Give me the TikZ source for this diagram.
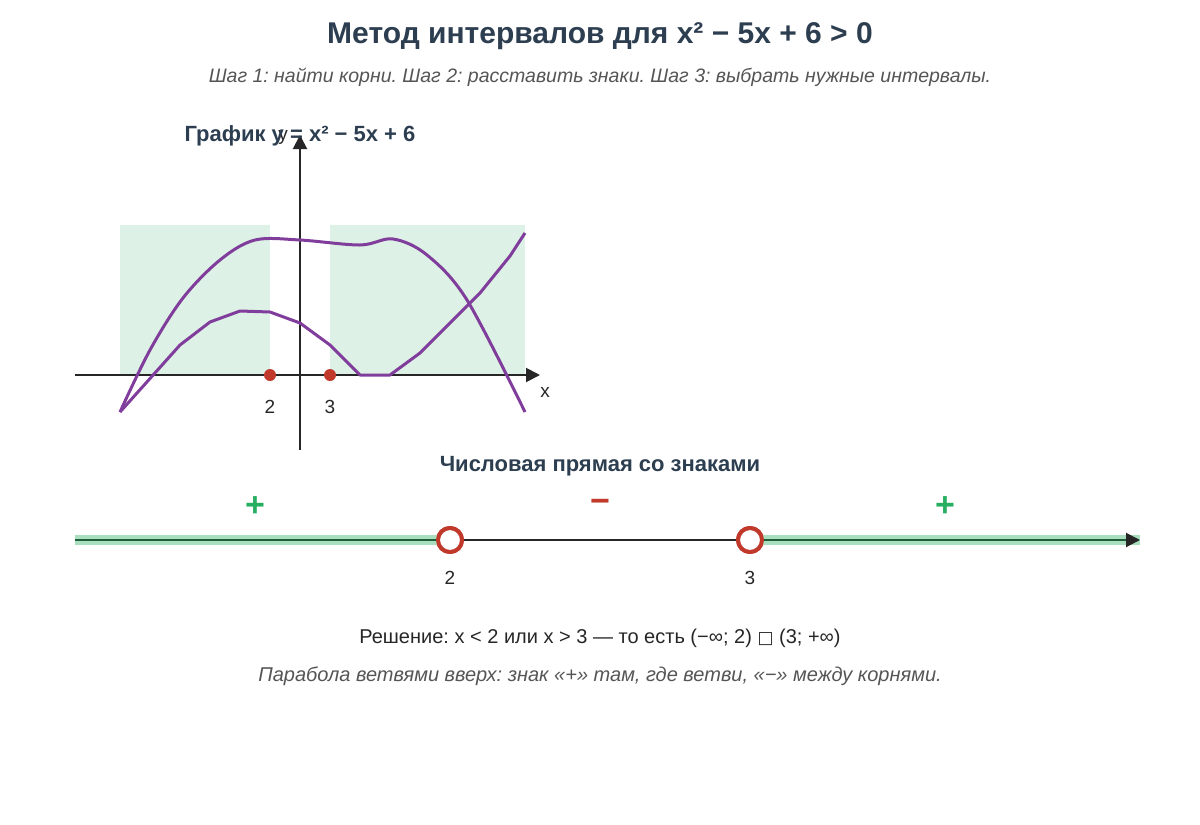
\documentclass[tikz,border=0pt]{standalone}
\usepackage{fontspec}
\setmainfont{Liberation Sans}
\newfontfamily\symfont{DejaVu Sans}
\usepackage{xcolor}
\usetikzlibrary{arrows.meta}
\definecolor{ink}{HTML}{2C3E50}
\definecolor{grey}{HTML}{555555}
\definecolor{rootred}{HTML}{C0392B}
\definecolor{plusgreen}{HTML}{27AE60}
\definecolor{zone}{HTML}{DDF1E6}
\definecolor{band}{HTML}{A9DFBF}
\definecolor{darkband}{HTML}{1E5E3A}
\definecolor{curve}{HTML}{8E44AD}

\tikzset{
  axis/.style={line width=2pt, draw=black!85, -{Triangle[length=14pt,width=14pt]}},
  curveline/.style={curve!90!black, line width=3pt, line join=round},
  root/.style={circle, fill=rootred, inner sep=0pt, minimum size=12pt},
  hole/.style={circle, draw=rootred, line width=4pt, fill=white, inner sep=0pt, minimum size=24pt},
  lbl/.style={font=\fontsize{19}{21}\selectfont, text=black!85},
  sign/.style={font=\fontsize{34}{34}\selectfont\bfseries}
}

\begin{document}
\frenchspacing
\begin{tikzpicture}[x=1pt,y=-1pt]
        \useasboundingbox (0,0) rectangle (1200,825);

        % titles
        \node[font=\fontsize{30}{32}\selectfont\bfseries, text=ink] (title) at (600,36) {Метод интервалов для x² − 5x + 6 > 0};
        \node[font=\fontsize{19.5}{22}\selectfont\itshape, text=grey] (sub) at (600,77) {Шаг 1: найти корни. Шаг 2: расставить знаки. Шаг 3: выбрать нужные интервалы.};

        % graph
        \fill[zone] (120,225) rectangle (270,375);
        \fill[zone] (330,225) rectangle (525,375);
        \draw[axis] (75,375) -- (540,375);
        \draw[axis] (300,450) -- (300,135);
        \draw[curveline] plot[smooth, tension=0.55] coordinates {(120,412) (150,350) (183,298) (220,260) (255,240) (300,240) (360,245) (393,239) (427,255) (467,300) (525,412)};
        \draw[curveline] (120,412) -- (180,345) -- (210,322) -- (240,311) -- (270,312) -- (300,323) -- (330,345) -- (360,375) -- (390,375) -- (420,353) -- (450,323) -- (480,293) -- (510,256) -- (525,233);
        \node[root] (r2) at (270,375) {};
        \node[root] (r3) at (330,375) {};
        \node[lbl] at (270,407) {2};
        \node[lbl] at (330,407) {3};
        \node[lbl] at (545,392) {x};
        \node[lbl] at (283,137) {y};
        \node[font=\fontsize{22}{24}\selectfont\bfseries, text=ink] (gtitle) at (300,136) {График y = x² − 5x + 6};

        % number line
        \node[font=\fontsize{22}{24}\selectfont\bfseries, text=ink] (ltitle) at (600,466) {Числовая прямая со знаками};
        \coordinate (L) at (75,540);
        \coordinate (R) at (1140,540);
        \node[hole] (h2) at (450,540) {};
        \node[hole] (h3) at (750,540) {};
        \draw[band, line width=10pt] (L) -- (h2.center);
        \draw[band, line width=10pt] (h3.center) -- (R);
        \draw[axis] (L) -- (R);
        \draw[darkband, line width=2.5pt] (L) -- (h2.center);
        \draw[darkband, line width=2.5pt] (h3.center) -- (1126,540);
        \node[hole] at (h2) {};
        \node[hole] at (h3) {};
        \node[lbl] at (450,578) {2};
        \node[lbl] at (750,578) {3};
        \node[sign, text=plusgreen] at (255,507) {+};
        \node[sign, text=rootred] at (600,506) {−};
        \node[sign, text=plusgreen] at (945,507) {+};

        % answer
        \node[font=\fontsize{20}{24}\selectfont, text=black!85] (answer) at (600,638) {Решение: x < 2 или x > 3 — то есть (−∞; 2) {\symfont\fontsize{17}{20}\selectfont □} (3; +∞)};
        \node[font=\fontsize{20}{24}\selectfont\itshape, text=grey] (note) at (600,676) {Парабола ветвями вверх: знак «+» там, где ветви, «−» между корнями.};
\end{tikzpicture}
\end{document}
